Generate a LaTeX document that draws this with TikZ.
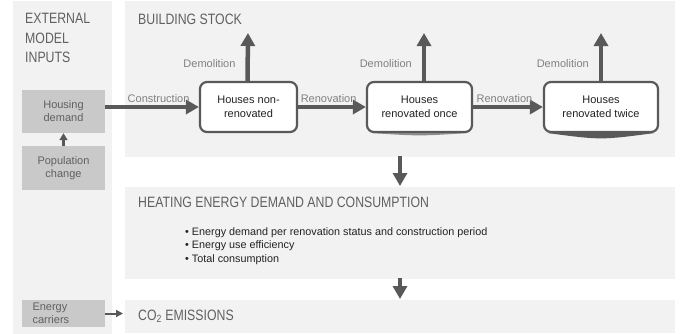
\documentclass[tikz,border=0pt]{standalone}
\usepackage{fontspec}
\setmainfont{Liberation Sans}
\newfontfamily\headfont[FakeStretch=0.82]{Liberation Sans}
\usetikzlibrary{arrows.meta,positioning}
\definecolor{panelgray}{RGB}{242,242,242}
\definecolor{inputgray}{RGB}{201,201,201}
\definecolor{arrowgray}{RGB}{89,89,89}
\definecolor{labelgray}{RGB}{128,128,128}
\definecolor{headgray}{RGB}{96,96,96}
\definecolor{textgray}{RGB}{34,34,34}

\begin{document}
\begin{tikzpicture}[x=1pt,y=-1pt]
                \useasboundingbox (0,0) rectangle (683,333);
                \tikzstyle{panel}=[rectangle, fill=panelgray, inner sep=0pt, anchor=north west]
                \tikzstyle{head}=[anchor=base west, inner sep=0pt, text=headgray, font=\headfont\fontsize{15}{19.5}\selectfont, align=left]
                \tikzstyle{input}=[rectangle, fill=inputgray, minimum width=83pt, text=headgray, font=\fontsize{11}{13}\selectfont, align=center, inner sep=0pt]
                \tikzstyle{house}=[rectangle, rounded corners=7pt, draw=arrowgray, line width=2.2pt, fill=white, text=textgray, font=\fontsize{11}{14.5}\selectfont, align=center, minimum height=50pt]
                \tikzstyle{lbl}=[text=labelgray, font=\fontsize{11}{13}\selectfont, inner sep=2pt]

                % panels
                \node[panel, minimum width=99pt, minimum height=333pt] (P0) at (13,1) {};
                \node[panel, minimum width=550pt, minimum height=156pt] (P1) at (125,1) {};
                \node[panel, minimum width=550pt, minimum height=92pt] (P2) at (125,187) {};
                \node[panel, minimum width=550pt, minimum height=33pt] (P3) at (125,300) {};

                % headings
                \node[head, anchor=north west] (H0) at (25,13) {EXTERNAL\\MODEL\\INPUTS};
                \node[head] (H1) at (138,24) {BUILDING STOCK};
                \node[head] (H2) at (138,207) {HEATING ENERGY DEMAND AND CONSUMPTION};
                \node[head] (H3) at (138,320) {CO\textsubscript{2} EMISSIONS};

                % external inputs
                \node[input, minimum height=43pt] (I1) at (63.5,111.5) {Housing\\demand};
                \node[input, minimum height=44pt] (I2) at (63.5,168) {Population\\change};
                \node[input, minimum height=27pt, align=left, text width=62pt] (I3) at (63.5,313.5) {Energy\\carriers};

                % building stock
                \node[house, minimum width=97pt] (B1) at (248.5,107) {Houses non-\\renovated};
                \node[house, minimum width=105pt] (B2) at (419.5,107) {Houses\\renovated once};
                \node[house, minimum width=114pt] (B3) at (601,107) {Houses\\renovated twice};
                \fill[arrowgray!70] ([xshift=6pt]B2.south west) .. controls ([yshift=-3pt]B2.south) .. ([xshift=-6pt]B2.south east) -- cycle;
                \fill[arrowgray] ([xshift=5pt]B3.south west) .. controls ([yshift=-7pt]B3.south) .. ([xshift=-5pt]B3.south east) -- cycle;

                \coordinate (D1) at (248,33);
                \coordinate (D2) at (424,33);
                \coordinate (D3) at (601,33);

                % bullets
                \node[anchor=north west, inner sep=0pt, text=textgray, align=left, font=\fontsize{10.8}{13.5}\selectfont] (L1) at (185,227)
                    {\textbullet\ Energy demand per renovation status and construction period\\
                     \textbullet\ Energy use efficiency\\
                     \textbullet\ Total consumption};

                \tikzstyle{flow}=[-{Triangle[length=13pt,width=14pt]}, line width=4.5pt, arrowgray]
                \tikzstyle{thin}=[-{Triangle[length=7pt,width=8pt]}, line width=2.5pt, arrowgray]

                \draw[flow] (I1.east |- B1.west) -- node[lbl, above, pos=0.57] {Construction} (B1.west);
                \draw[flow] (B1.east) -- node[lbl, above, pos=0.45] {Renovation} (B2.west);
                \draw[flow] (B2.east) -- node[lbl, above, pos=0.45] {Renovation} (B3.west);
                \draw[flow] ([xshift=-1pt]B1.north) -- node[lbl, left=8pt, pos=0.37] {Demolition} (D1);
                \draw[flow] ([xshift=4.5pt]B2.north) -- node[lbl, left=8pt, pos=0.37] {Demolition} (D2);
                \draw[flow] (B3.north) -- node[lbl, left=8pt, pos=0.37] {Demolition} (D3);
                \draw[flow] (P1.south west -| 400,0) ++(0,-1) -- ([yshift=1pt]P2.north west -| 400,0);
                \draw[flow] (P2.south west -| 400,0) ++(0,-1) -- ([yshift=1pt]P3.north west -| 400,0);
                \draw[thin] (I2.north) -- (I1.south);
                \draw[-{Triangle[length=7pt,width=7pt]}, line width=2pt, arrowgray] (I3.east) -- ([xshift=-2pt]P3.west |- I3.east);
            \end{tikzpicture}
\end{document}
